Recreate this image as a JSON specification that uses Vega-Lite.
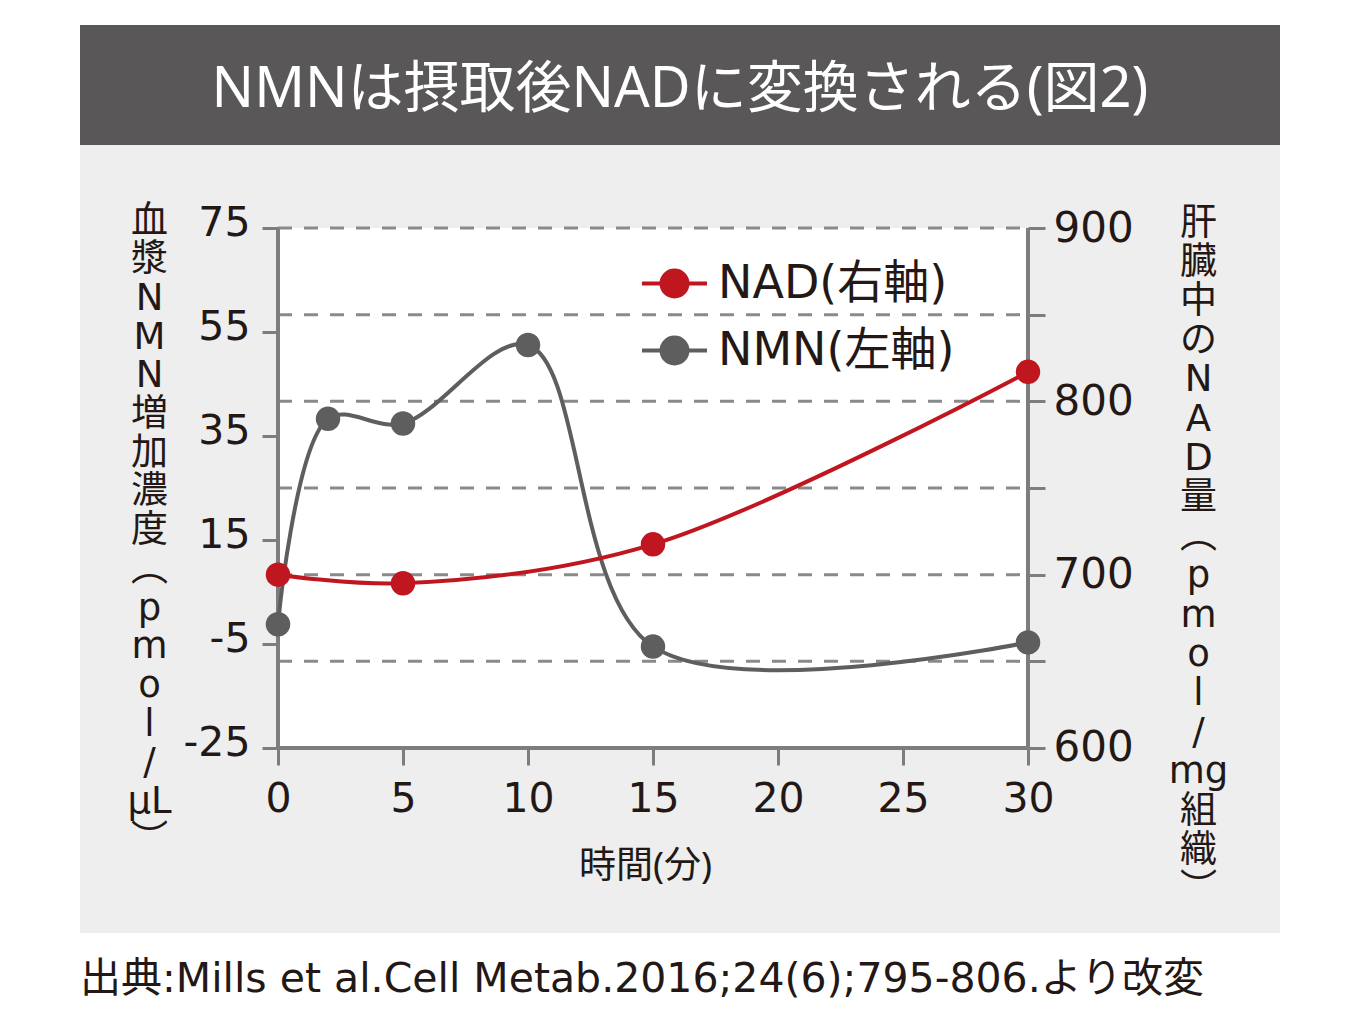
{
  "$schema": "https://vega.github.io/schema/vega-lite/v6.json",
  "background": "white",
  "padding": {"left": 80, "top": 25, "right": 80, "bottom": 5},
  "spacing": 0,
  "config": {
    "view": {"stroke": null},
    "font": "DejaVu Sans, Noto Sans CJK JP",
    "axis": {"labelFont": "DejaVu Sans, Noto Sans CJK JP", "titleFont": "DejaVu Sans, Noto Sans CJK JP", "labelColor": "#231815", "titleColor": "#231815", "titleFontWeight": "normal", "grid": false, "domain": false, "tickColor": "#7d7d7d", "tickWidth": 3}
  },
  "title": {
    "text": "出典:Mills et al.Cell Metab.2016;24(6);795-806.より改変",
    "orient": "bottom",
    "anchor": "start",
    "offset": 27,
    "font": "DejaVu Sans, Noto Sans CJK JP",
    "fontSize": 41,
    "fontWeight": "normal",
    "color": "#231815"
  },
  "datasets": {
    "series": [
      {"series": "NMN", "time": 0, "value": -1.2},
      {"series": "NMN", "time": 2, "value": 38.3},
      {"series": "NMN", "time": 5, "value": 37.4},
      {"series": "NMN", "time": 10, "value": 52.5},
      {"series": "NMN", "time": 15, "value": -5.5},
      {"series": "NMN", "time": 30, "value": -4.7},
      {"series": "NAD", "time": 0, "value": 700},
      {"series": "NAD", "time": 5, "value": 695},
      {"series": "NAD", "time": 15, "value": 717.5},
      {"series": "NAD", "time": 30, "value": 817}
    ],
    "grid": [
      {"level": 900}, {"level": 850}, {"level": 800}, {"level": 750}, {"level": 700}, {"level": 650}
    ],
    "one": [{}]
  },
  "vconcat": [
    {
      "width": 1200,
      "height": 120,
      "view": {"fill": "#595757", "stroke": null},
      "data": {"name": "one"},
      "mark": {"type": "text", "font": "Noto Sans, Noto Sans CJK JP", "fontSize": 56, "color": "white", "align": "center", "baseline": "middle", "dy": 5},
      "encoding": {"text": {"datum": "NMNは摂取後NADに変換される(図2)"}}
    },
    {
      "width": 1200,
      "height": 788,
      "view": {"fill": "#eeeeee", "stroke": null},
      "resolve": {"scale": {"y": "independent"}, "axis": {"y": "independent"}},
      "layer": [
        {
          "data": {"name": "one"},
          "mark": {"type": "rect", "fill": "white"},
          "encoding": {
            "x": {
              "datum": 0, "type": "quantitative",
              "scale": {"domain": [-7.92, 40.08], "nice": false, "zero": false},
              "axis": {
                "orient": "bottom", "offset": -185, "values": [0, 5, 10, 15, 20, 25, 30],
                "tickSize": 17, "labelFontSize": 41, "labelPadding": 14, "labelFlush": false, "labelOverlap": false,
                "title": "時間(分)", "titleFont": "Noto Sans, Noto Sans CJK JP", "titleFontSize": 37, "titleX": 565, "titleY": 129, "titleAlign": "center", "titleBaseline": "alphabetic", "titleAnchor": null
              }
            },
            "x2": {"datum": 30},
            "y": {"datum": 600, "type": "quantitative", "scale": {"domain": [493.269, 947.885], "nice": false, "zero": false}, "axis": null},
            "y2": {"datum": 900}
          }
        },
        {
          "data": {"name": "grid"},
          "mark": {"type": "rule", "stroke": "#8a8a8a", "strokeWidth": 3, "strokeDash": [14, 12]},
          "encoding": {
            "x": {"datum": 0, "type": "quantitative", "scale": {"domain": [-7.92, 40.08], "nice": false, "zero": false}},
            "x2": {"datum": 30},
            "y": {"field": "level", "type": "quantitative", "scale": {"domain": [493.269, 947.885], "nice": false, "zero": false}, "axis": null}
          }
        },
        {
          "data": {"name": "one"},
          "mark": {"type": "rule", "stroke": "#7d7d7d", "strokeWidth": 4},
          "encoding": {
            "x": {"datum": 0, "type": "quantitative", "scale": {"domain": [-7.92, 40.08], "nice": false, "zero": false}},
            "y": {"datum": 600, "type": "quantitative", "scale": {"domain": [493.269, 947.885], "nice": false, "zero": false}, "axis": null},
            "y2": {"datum": 900}
          }
        },
        {
          "data": {"name": "one"},
          "mark": {"type": "rule", "stroke": "#7d7d7d", "strokeWidth": 4},
          "encoding": {
            "x": {"datum": 30, "type": "quantitative", "scale": {"domain": [-7.92, 40.08], "nice": false, "zero": false}},
            "y": {"datum": 600, "type": "quantitative", "scale": {"domain": [493.269, 947.885], "nice": false, "zero": false}, "axis": null},
            "y2": {"datum": 900}
          }
        },
        {
          "data": {"name": "one"},
          "mark": {"type": "rule", "stroke": "#7d7d7d", "strokeWidth": 4},
          "encoding": {
            "x": {"datum": 0, "type": "quantitative", "scale": {"domain": [-7.92, 40.08], "nice": false, "zero": false}},
            "x2": {"datum": 30},
            "y": {"datum": 600, "type": "quantitative", "scale": {"domain": [493.269, 947.885], "nice": false, "zero": false}, "axis": null}
          }
        },
        {
          "data": {"name": "series"},
          "transform": [{"filter": "datum.series === 'NMN'"}],
          "mark": {"type": "line", "interpolate": "catmull-rom", "strokeWidth": 4, "point": {"filled": true, "size": 600, "opacity": 1}},
          "encoding": {
            "x": {"field": "time", "type": "quantitative", "scale": {"domain": [-7.92, 40.08], "nice": false, "zero": false}},
            "y": {
              "field": "value", "type": "quantitative",
              "scale": {"domain": [-60.577, 90.9615], "nice": false, "zero": false},
              "axis": {
                "orient": "left", "offset": -198, "values": [-25, -5, 15, 35, 55, 75],
                "labelExpr": "toString(datum.value)",
                "tickSize": 16, "labelFontSize": 41, "labelPadding": 12, "labelOffset": -4, "labelFlush": false, "labelOverlap": false,
                "title": ["血", "漿", "N", "M", "N", "増", "加", "濃", "度", "︵", "p", "m", "o", "l", "/", "μL", "︶"],
                "titleAngle": 0, "titleFontSize": 37, "titleLineHeight": 38.7, "titleX": -129, "titleY": 87, "titleAlign": "center", "titleBaseline": "alphabetic"
              }
            },
            "color": {
              "field": "series", "type": "nominal",
              "scale": {"domain": ["NAD", "NMN"], "range": ["#c0161f", "#5e5e5e"]},
              "legend": {
                "title": null, "orient": "none", "legendX": 560, "legendY": 224, "padding": 0,
                "symbolType": "M-1,0H1M-0.4,0A0.4,0.4,0,1,0,0.4,0A0.4,0.4,0,1,0,-0.4,0M-0.29,0A0.29,0.29,0,1,0,0.29,0A0.29,0.29,0,1,0,-0.29,0M-0.18,0A0.18,0.18,0,1,0,0.18,0A0.18,0.18,0,1,0,-0.18,0M-0.07,0A0.07,0.07,0,1,0,0.07,0A0.07,0.07,0,1,0,-0.07,0",
                "symbolSize": 4225, "symbolStrokeWidth": 4, "symbolOpacity": 1,
                "labelFontSize": 46, "labelFont": "DejaVu Sans, Noto Sans CJK JP", "labelColor": "#231815", "labelOffset": 9, "labelLimit": 0, "rowPadding": 9,
                "labelExpr": "datum.label === 'NAD' ? 'NAD(右軸)' : 'NMN(左軸)'"
              }
            }
          }
        },
        {
          "data": {"name": "series"},
          "transform": [{"filter": "datum.series === 'NAD'"}],
          "mark": {"type": "line", "interpolate": "catmull-rom", "strokeWidth": 4, "point": {"filled": true, "size": 600, "opacity": 1}},
          "encoding": {
            "x": {"field": "time", "type": "quantitative", "scale": {"domain": [-7.92, 40.08], "nice": false, "zero": false}},
            "y": {
              "field": "value", "type": "quantitative",
              "scale": {"domain": [493.269, 947.885], "nice": false, "zero": false},
              "axis": {
                "orient": "right", "offset": -252, "values": [600, 650, 700, 750, 800, 850, 900],
                "labelExpr": "datum.value % 100 === 0 ? datum.label : ''",
                "tickSize": 17, "labelFontSize": 42, "labelPadding": 8, "labelFlush": false, "labelOverlap": false,
                "title": ["肝", "臓", "中", "の", "N", "A", "D", "量", "︵", "p", "m", "o", "l", "/", "mg", "組", "織", "︶"],
                "titleAngle": 0, "titleFontSize": 37, "titleLineHeight": 39.2, "titleX": 170, "titleY": 89, "titleAlign": "center", "titleBaseline": "alphabetic"
              }
            },
            "color": {"field": "series", "type": "nominal", "scale": {"domain": ["NAD", "NMN"], "range": ["#c0161f", "#5e5e5e"]}}
          }
        }
      ]
    }
  ]
}
